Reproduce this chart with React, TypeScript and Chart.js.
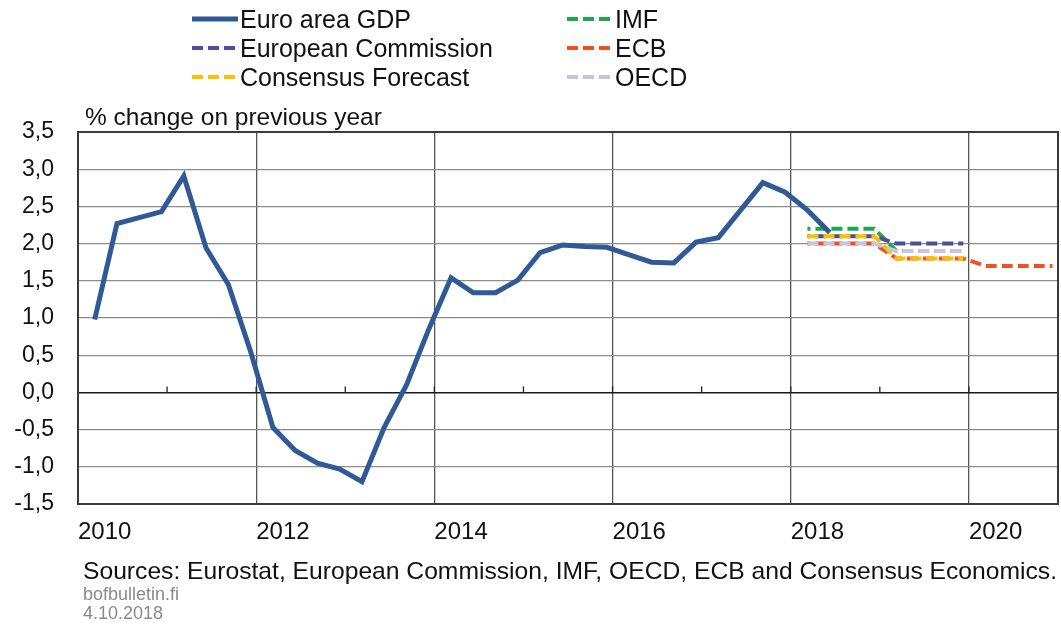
import React, { useEffect, useRef } from "react";
import { Chart, registerables } from "chart.js";

Chart.register(...registerables);

// ---- Data ----
const years = [2010, 2011, 2012, 2013, 2014, 2015, 2016, 2017, 2018, 2019, 2020];
const quarters = ["Q1", "Q2", "Q3", "Q4"];
const xTickYears = [2010, 2012, 2014, 2016, 2018, 2020];

// Euro area GDP, % change on previous year, quarterly 2010Q1..2018Q2
const gdpValues = [
  0.98, 2.27, 2.35, 2.43,
  2.91, 1.94, 1.45, 0.55,
  -0.47, -0.78, -0.95, -1.03,
  -1.2, -0.47, 0.1, 0.85,
  1.54, 1.34, 1.34, 1.51,
  1.88, 1.98, 1.96, 1.95,
  1.85, 1.75, 1.74, 2.02,
  2.08, 2.45, 2.82, 2.69,
  2.45, 2.15,
];

// Annual forecasts for 2018, 2019, 2020
const forecastYears = [2018, 2019, 2020];
const ecValues = [2.1, 2.0, null];
const consensusValues = [2.1, 1.8, null];
const imfValues = [2.2, 1.9, null];
const ecbValues = [2.0, 1.8, 1.7];
const oecdValues = [2.0, 1.9, null];

const yTickMin = -1.5;
const yTickMax = 3.5;
const yTickStep = 0.5;

// ---- helpers ----
// category (year, quarter index) -> position on the time axis
const quarterPos = (year: number, q: number) => year + (q + 0.75) / 4;

const gdpPoints = gdpValues.map((v, i) => ({
  x: quarterPos(years[0] + Math.floor(i / 4), i % 4),
  y: v,
}));

const annualToQuarterly = (vals: (number | null)[]) => {
  const pts: { x: number; y: number }[] = [];
  forecastYears.forEach((yr, i) => {
    const v = vals[i];
    if (v === null || v === undefined) return;
    quarters.forEach((_, q) => pts.push({ x: quarterPos(yr, q), y: v }));
  });
  return pts;
};

const COLORS = {
  gdp: "#2f5a96",
  ec: "#4b4c9e",
  consensus: "#ffc000",
  imf: "#1ba84f",
  ecb: "#f25022",
  oecd: "#c4c6e0",
};

const legendItems = [
  { label: "Euro area GDP", color: COLORS.gdp, dashed: false, col: 0, row: 0 },
  { label: "European Commission", color: COLORS.ec, dashed: true, col: 0, row: 1 },
  { label: "Consensus Forecast", color: COLORS.consensus, dashed: true, col: 0, row: 2 },
  { label: "IMF", color: COLORS.imf, dashed: true, col: 1, row: 0 },
  { label: "ECB", color: COLORS.ecb, dashed: true, col: 1, row: 1 },
  { label: "OECD", color: COLORS.oecd, dashed: true, col: 1, row: 2 },
];

const FONT = "'Liberation Sans', Arial, Helvetica, sans-serif";

const decorPlugin = {
  id: "decor",
  afterDraw(chart: any) {
    const { ctx, chartArea } = chart;
    const xs = chart.scales.x;
    const ys = chart.scales.y;
    ctx.save();

    // year tick marks on the zero line
    const y0 = ys.getPixelForValue(0);
    ctx.strokeStyle = "#222";
    ctx.lineWidth = 1.3;
    for (let yr = years[0] + 1; yr <= years[years.length - 1]; yr++) {
      const px = xs.getPixelForValue(yr);
      ctx.beginPath();
      ctx.moveTo(px, y0);
      ctx.lineTo(px, y0 - 6);
      ctx.stroke();
    }

    // frame
    ctx.strokeStyle = "#3a3a3a";
    ctx.lineWidth = 2;
    ctx.strokeRect(
      chartArea.left,
      chartArea.top,
      chartArea.right - chartArea.left,
      chartArea.bottom - chartArea.top
    );

    // title
    ctx.fillStyle = "#111";
    ctx.textBaseline = "alphabetic";
    ctx.textAlign = "left";
    ctx.font = `24.5px ${FONT}`;
    ctx.fillText("% change on previous year", 85, 125);

    // legend
    const colX = [192, 567];
    const rowY = [19, 48, 77];
    legendItems.forEach((it) => {
      const x = colX[it.col];
      const y = rowY[it.row];
      ctx.beginPath();
      ctx.strokeStyle = it.color;
      ctx.lineWidth = it.dashed ? 4 : 5;
      ctx.setLineDash(it.dashed ? [11, 5] : []);
      ctx.moveTo(x, y);
      ctx.lineTo(x + 46, y);
      ctx.stroke();
      ctx.setLineDash([]);
      ctx.fillStyle = "#111";
      ctx.font = `25px ${FONT}`;
      ctx.fillText(it.label, x + 48, y + 9);
    });

    // sources (fitted to the reference width)
    const src = "Sources: Eurostat, European Commission, IMF, OECD, ECB and Consensus Economics.";
    ctx.font = `24px ${FONT}`;
    const w = ctx.measureText(src).width;
    const target = 974;
    ctx.save();
    ctx.translate(83, 579);
    ctx.scale(target / w, 1);
    ctx.fillStyle = "#111";
    ctx.fillText(src, 0, 0);
    ctx.restore();

    ctx.fillStyle = "#8a8a8a";
    ctx.font = `18px ${FONT}`;
    ctx.fillText("bofbulletin.fi", 83, 600);
    ctx.fillText("4.10.2018", 83, 619);

    ctx.restore();
  },
};

export default function App() {
  const canvasRef = useRef<HTMLCanvasElement | null>(null);

  useEffect(() => {
    document.body.style.margin = "0";
    const canvas = canvasRef.current;
    if (!canvas) return;

    const forecastBase = {
      borderWidth: 4,
      borderDash: [11, 5],
      pointRadius: 0,
      pointHoverRadius: 0,
      tension: 0,
      fill: false,
    };

    const chart = new Chart(canvas, {
      type: "line",
      data: {
        datasets: [
          {
            label: "Euro area GDP",
            data: gdpPoints,
            borderColor: COLORS.gdp,
            borderWidth: 5,
            pointRadius: 0,
            tension: 0,
            fill: false,
            order: 0,
          },
          {
            ...forecastBase,
            label: "European Commission",
            data: annualToQuarterly(ecValues),
            borderColor: COLORS.ec,
            borderDashOffset: 8,
            order: 3,
          },
          {
            ...forecastBase,
            label: "Consensus Forecast",
            data: annualToQuarterly(consensusValues),
            borderColor: COLORS.consensus,
            borderDashOffset: 0,
            order: 2,
          },
          {
            ...forecastBase,
            label: "IMF",
            data: annualToQuarterly(imfValues),
            borderColor: COLORS.imf,
            borderDashOffset: 8,
            order: 4,
          },
          {
            ...forecastBase,
            label: "ECB",
            data: annualToQuarterly(ecbValues),
            borderColor: COLORS.ecb,
            borderDashOffset: 8,
            order: 5,
          },
          {
            ...forecastBase,
            label: "OECD",
            data: annualToQuarterly(oecdValues),
            borderColor: COLORS.oecd,
            borderDashOffset: 0,
            order: 1,
          },
        ] as any,
      },
      options: {
        responsive: false,
        animation: false,
        devicePixelRatio: 1,
        layout: { padding: { top: 132, right: 3, left: 0, bottom: 81 } },
        plugins: {
          legend: { display: false },
          tooltip: { enabled: false },
        },
        scales: {
          x: {
            type: "linear",
            min: years[0],
            max: years[years.length - 1] + 1,
            afterFit: (s: any) => {
              s.height = 40;
              s.paddingLeft = 0;
              s.paddingRight = 0;
            },
            afterBuildTicks: (s: any) => {
              s.ticks = [...xTickYears, years[years.length - 1] + 1].map((v) => ({ value: v }));
            },
            ticks: {
              align: "start",
              autoSkip: false,
              maxRotation: 0,
              padding: 14,
              color: "#111",
              font: { size: 24, family: FONT },
              callback: (v: any) => (xTickYears.includes(Number(v)) ? String(v) : ""),
            },
            grid: {
              drawTicks: false,
              color: (c: any) =>
                c.tick && (c.tick.value === years[0] || c.tick.value === years[years.length - 1] + 1)
                  ? "rgba(0,0,0,0)"
                  : "#555",
              lineWidth: 1.3,
            },
            border: { display: false },
          },
          y: {
            min: yTickMin,
            max: yTickMax,
            afterFit: (s: any) => {
              s.width = 78;
              s.paddingTop = 0;
              s.paddingBottom = 0;
            },
            ticks: {
              stepSize: yTickStep,
              padding: 24,
              color: "#111",
              font: { size: 23, family: FONT },
              callback: (v: any) => Number(v).toFixed(1).replace(".", ","),
            },
            grid: {
              drawTicks: false,
              color: (c: any) => (c.tick && Math.abs(c.tick.value) < 1e-9 ? "#1a1a1a" : "#8c8c8c"),
              lineWidth: (c: any) => (c.tick && Math.abs(c.tick.value) < 1e-9 ? 1.5 : 1.3),
            },
            border: { display: false },
          },
        },
      } as any,
      plugins: [decorPlugin],
    });

    return () => {
      chart.destroy();
    };
  }, []);

  return (
    <div style={{ position: "absolute", left: 0, top: 0, width: 1061, height: 625, background: "#fff" }}>
      <canvas ref={canvasRef} width={1061} height={625} style={{ width: 1061, height: 625 }} />
    </div>
  );
}
